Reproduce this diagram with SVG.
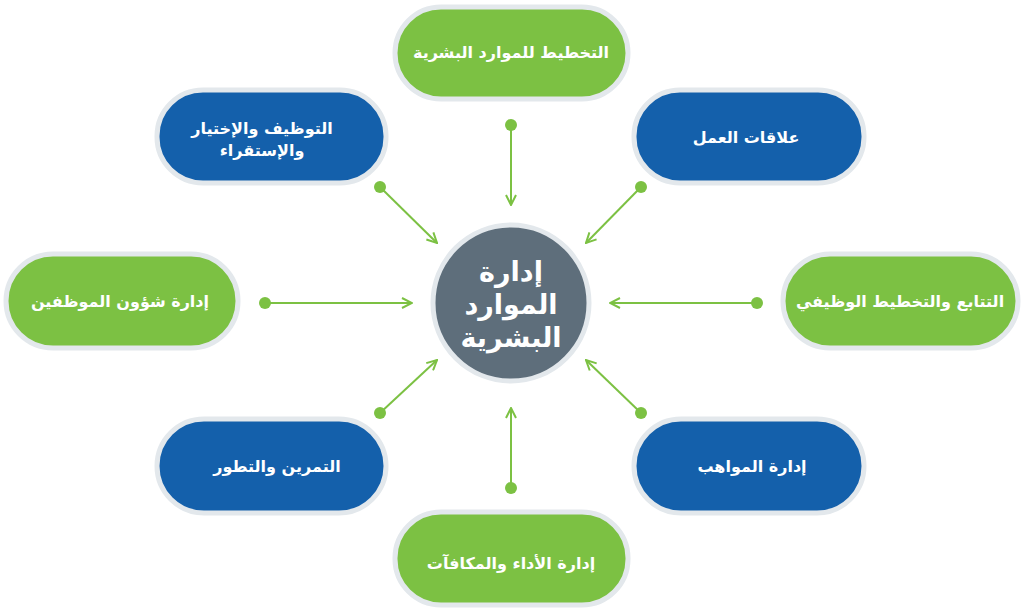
<svg xmlns="http://www.w3.org/2000/svg" width="1024" height="613" viewBox="0 0 1024 613">
<defs>
<style>
.g{fill:#7cc143;stroke:#e3e8ec;stroke-width:5}
.b{fill:#1460ab;stroke:#e3e8ec;stroke-width:5}
.t{fill:#fff;font-family:"DejaVu Sans",sans-serif;font-weight:bold;font-size:16px;text-anchor:middle;direction:rtl}
.c{stroke:#7cc143;stroke-width:2;fill:none;marker-end:url(#ah)}
.d{fill:#7cc143}
</style>
<marker id="ah" viewBox="0 0 12 12" refX="11" refY="6" markerWidth="12" markerHeight="12" markerUnits="userSpaceOnUse" orient="auto"><path d="M1 1 L11 6 L1 11" fill="none" stroke="#7cc143" stroke-width="2"/></marker>
</defs>
<rect width="1024" height="613" fill="#fff"/>
<g id="connectors">
<line class="c" x1="380" y1="187" x2="437" y2="243"/><circle class="d" cx="380" cy="187" r="6"/>
<line class="c" x1="511" y1="125" x2="511" y2="205"/><circle class="d" cx="511" cy="125" r="6"/>
<line class="c" x1="641" y1="187" x2="586" y2="243"/><circle class="d" cx="641" cy="187" r="6"/>
<line class="c" x1="265" y1="303" x2="412" y2="303"/><circle class="d" cx="265" cy="303" r="6"/>
<line class="c" x1="757" y1="303" x2="610" y2="303"/><circle class="d" cx="757" cy="303" r="6"/>
<line class="c" x1="380" y1="413" x2="437" y2="360"/><circle class="d" cx="380" cy="413" r="6"/>
<line class="c" x1="641" y1="413" x2="586" y2="360"/><circle class="d" cx="641" cy="413" r="6"/>
<line class="c" x1="511" y1="488" x2="511" y2="408"/><circle class="d" cx="511" cy="488" r="6"/>
</g>
<g id="center"><circle cx="511" cy="303" r="78" fill="#5e6e7b" stroke="#e3e8ec" stroke-width="5"/>
<text class="t" style="font-size:27px" x="511" y="281">إدارة</text>
<text class="t" style="font-size:27px" x="511" y="314">الموارد</text>
<text class="t" style="font-size:27px" x="511" y="347">البشرية</text></g>
<g id="n1"><rect class="g" x="395" y="7" width="233" height="92" rx="46"/><text class="t" x="511" y="58">التخطيط للموارد البشرية</text></g>
<g id="n2"><rect class="b" x="157" y="90" width="229" height="93" rx="46"/><text class="t" x="262" y="134">التوظيف والإختيار</text><text class="t" x="262" y="156">والإستقراء</text></g>
<g id="n3"><rect class="b" x="634" y="90" width="230" height="93" rx="46"/><text class="t" x="746" y="143">علاقات العمل</text></g>
<g id="n4"><rect class="g" x="6" y="254" width="232" height="94" rx="47"/><text class="t" x="120" y="307">إدارة شؤون الموظفين</text></g>
<g id="n5"><rect class="g" x="783" y="254" width="235" height="94" rx="47"/><text class="t" x="900" y="307">التتابع والتخطيط الوظيفي</text></g>
<g id="n6"><rect class="b" x="157" y="419" width="229" height="94" rx="47"/><text class="t" x="277" y="472">التمرين والتطور</text></g>
<g id="n7"><rect class="b" x="634" y="419" width="230" height="94" rx="47"/><text class="t" x="752" y="472">إدارة المواهب</text></g>
<g id="n8"><rect class="g" x="395" y="512" width="233" height="93" rx="46"/><text class="t" x="511" y="569">إدارة الأداء والمكافآت</text></g>
</svg>
